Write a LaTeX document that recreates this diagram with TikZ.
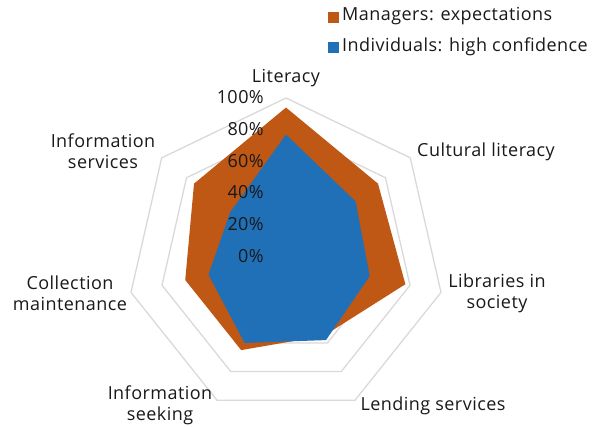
\documentclass[tikz,border=0pt]{standalone}
\usepackage{fontspec}
\setmainfont{Open Sans}[LetterSpace=2.5]
\definecolor{mgr}{RGB}{191,87,21}
\definecolor{ind}{RGB}{31,112,183}
\definecolor{gridc}{RGB}{217,217,217}
\begin{document}
\begin{tikzpicture}[x=1pt,y=1pt,
  lab/.style={font=\fontsize{18}{21}\selectfont, align=center, inner sep=0pt, text=black!90},
  gridline/.style={draw=gridc, line width=1.3pt, line join=round},
  legsq/.style={minimum size=11pt, inner sep=0pt}]
\useasboundingbox (0,0) rectangle (597,-427);
\begin{scope}[shift={(286,-257)}]
  \foreach \f in {159,127.2,95.4,63.6,31.8}
    \draw[gridline] (90:\f) \foreach \k in {1,...,6}{ -- ({90-\k*360/7}:\f)} -- cycle;
  \fill[mgr] (90:94*1.59) -- (38.571:74*1.59) -- (-12.857:77*1.59) -- (-64.286:55*1.59)
     -- (-115.714:65*1.59) -- (-167.143:65*1.59) -- (141.429:74*1.59) -- cycle;
  \fill[ind] (90:77*1.59) -- (38.571:56*1.59) -- (-12.857:54*1.59) -- (-64.286:58*1.59)
     -- (-115.714:60*1.59) -- (-167.143:50*1.59) -- (141.429:45*1.59) -- cycle;
\end{scope}
% axis value labels
\foreach \p [count=\i from 0] in {0,20,40,60,80,100}
  \node[lab, anchor=east] (v\i) at (264,{-256+\i*31.8}) {\p\%};
% category labels
\node[lab] (lit) at (286,-78) {Literacy};
\node[lab] (cul) at (486,-152) {Cultural literacy};
\node[lab] (soc) at (497,-293) {Libraries in\\society};
\node[lab] (len) at (433,-406) {Lending services};
\node[lab] (see) at (160,-405) {Information\\seeking};
\node[lab] (col) at (70,-293) {Collection\\maintenance};
\node[lab] (ser) at (103,-151) {Information\\services};
% legend
\node[legsq, fill=mgr] (lm) at (333.5,-17.5) {};
\node[lab, anchor=west] (tm) at (342,-16) {Managers: expectations};
\node[legsq, fill=ind] (li) at (333.5,-47.5) {};
\node[lab, anchor=west] (ti) at (342,-47) {Individuals: high confidence};
\end{tikzpicture}
\end{document}
